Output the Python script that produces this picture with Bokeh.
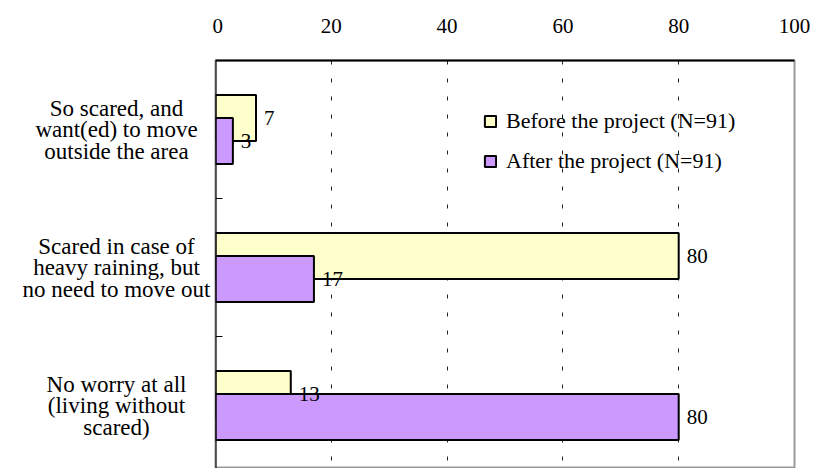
from bokeh.plotting import figure
from bokeh.layouts import row
from bokeh.models import (ColumnDataSource, Range1d, FixedTicker, LinearAxis,
                          Legend, LegendItem, Span)
from bokeh.core.properties import value
from bokeh.embed import file_html
from bokeh.resources import INLINE

categories = [
    "So scared, and\nwant(ed) to move\noutside the area",
    "Scared in case of\nheavy raining, but\nno need to move out",
    "No worry at all\n(living without\nscared)",
]
before = [7, 80, 13]
after = [3, 17, 80]
series_names = ["Before the project (N=91)", "After the project (N=91)"]
x_ticks = [0, 20, 40, 60, 80, 100]

FONT = "Liberation Serif"
C_BEFORE = "#FFFFCC"
C_AFTER = "#CC99FF"

H = 468
LEFT_W = 212
MAIN_W = 815 - LEFT_W

pos = list(range(len(categories)))
off = 1 / 12
bar_h = 1 / 3

src_b = ColumnDataSource(dict(y=[q - off for q in pos], v=before,
                              t=[str(v) for v in before]))
src_a = ColumnDataSource(dict(y=[q + off for q in pos], v=after,
                              t=[str(v) for v in after]))

y_range = Range1d(2.4565, -0.5)

# ---- main plot ----
p = figure(width=MAIN_W, height=H, output_backend="svg", toolbar_location=None,
           x_range=Range1d(x_ticks[0], x_ticks[-1]), y_range=y_range,
           x_axis_location="above", min_border_left=3, min_border_top=60,
           min_border_right=21, min_border_bottom=0)
p.above = []
p.left = []
p.below = []
p.background_fill_color = "white"
p.border_fill_color = "white"
p.outline_line_color = "#999999"
p.outline_line_width = 2

xa = LinearAxis(ticker=FixedTicker(ticks=x_ticks))
xa.axis_line_color = "black"
xa.axis_line_width = 2
xa.major_tick_out = 0
xa.major_tick_in = 0
xa.minor_tick_out = 0
xa.major_label_standoff = 28
xa.major_label_text_font = FONT
xa.major_label_text_font_size = "21px"
xa.major_label_text_color = "black"
p.add_layout(xa, "above")

p.xgrid.ticker = FixedTicker(ticks=x_ticks[1:-1])
p.xgrid.grid_line_color = "#222222"
p.xgrid.grid_line_dash = "4 14"
p.xgrid.grid_line_width = 1
p.ygrid.visible = False

# black category-axis line at value 0
p.add_layout(Span(location=x_ticks[0], dimension="height",
                  line_color="black", line_width=2))

# small inward ticks on the category axis between groups
bounds = [q + 0.5 for q in pos]
p.segment(x0=[x_ticks[0]] * len(bounds), x1=[1.2] * len(bounds),
          y0=bounds, y1=bounds, line_color="black", line_width=1)

rb = p.hbar(y="y", right="v", left=0, height=bar_h, source=src_b,
            fill_color=C_BEFORE, line_color="black", line_width=2)
ra = p.hbar(y="y", right="v", left=0, height=bar_h, source=src_a,
            fill_color=C_AFTER, line_color="black", line_width=2)

for s in (src_b, src_a):
    p.text(x="v", y="y", text="t", source=s, x_offset=8,
           text_baseline="middle", text_align="left",
           text_font=value(FONT), text_font_size="21px", text_color="black")

legend = Legend(items=[LegendItem(label=series_names[0], renderers=[rb]),
                       LegendItem(label=series_names[1], renderers=[ra])],
                location=(268, 294), orientation="vertical")
legend.label_text_font = FONT
legend.label_text_font_size = "22px"
legend.label_text_color = "black"
legend.glyph_width = 14
legend.glyph_height = 14
legend.label_standoff = 9
legend.spacing = 14
legend.padding = 0
legend.margin = 0
legend.border_line_color = None
legend.background_fill_alpha = 0
p.add_layout(legend, "center")

# ---- category labels panel ----
p0 = figure(width=LEFT_W, height=H, output_backend="svg", toolbar_location=None,
            x_range=Range1d(0, LEFT_W), y_range=y_range,
            min_border_left=0, min_border_top=60, min_border_right=0,
            min_border_bottom=0)
p0.above = []
p0.left = []
p0.below = []
p0.xgrid.visible = False
p0.ygrid.visible = False
p0.outline_line_color = None
p0.border_fill_color = "white"
p0.background_fill_color = "white"
p0.text(x=[116] * len(pos), y=pos, text=categories,
        text_align="center", text_baseline="middle",
        text_font=value(FONT), text_font_size="23px", text_color="black",
        text_line_height=0.86)

layout = row(p0, p, spacing=0)
open("out.html", "w").write(file_html(layout, INLINE))
